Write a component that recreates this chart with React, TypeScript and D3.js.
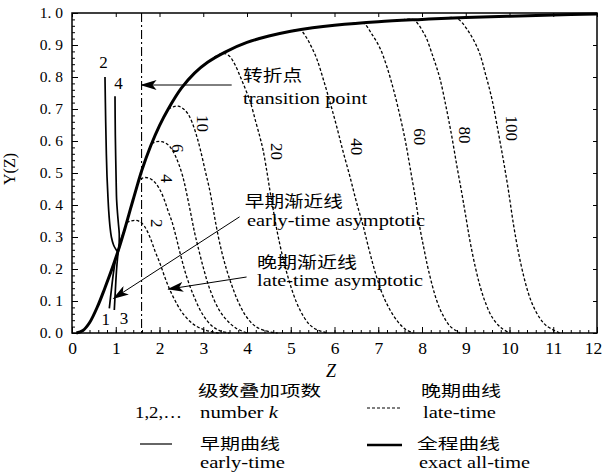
import * as d3 from 'd3';
import React, { useEffect, useRef } from 'react';

// chart box
const width = 602;
const height = 473;
const margin = { top: 13, right: 5, bottom: 140, left: 72 };

const serif = '"Liberation Serif", "Times New Roman", serif';
const cjk = '"Noto Sans CJK SC", "Noto Sans", sans-serif';

// axis ticks
const zTicks = [0, 1, 2, 3, 4, 5, 6, 7, 8, 9, 10, 11, 12];
const yTicks = [0, 0.1, 0.2, 0.3, 0.4, 0.5, 0.6, 0.7, 0.8, 0.9, 1.0];

// exact all-time curve [Z, Y]
const exactCurve: [number, number][] = [
  [0.1, 0], [0.25, 0.008], [0.4, 0.032], [0.6, 0.088], [0.75, 0.14], [0.9, 0.195],
  [1.05, 0.255], [1.2, 0.322], [1.3, 0.37], [1.4, 0.418], [1.5, 0.465], [1.6, 0.51],
  [1.8, 0.585], [2.0, 0.648], [2.2, 0.7], [2.5, 0.765], [2.8, 0.812], [3.1, 0.846],
  [3.5, 0.878], [4.0, 0.908], [4.5, 0.928], [5.0, 0.943], [5.5, 0.954], [6.0, 0.962],
  [7.0, 0.973], [8.0, 0.98], [9.0, 0.986], [10.0, 0.99], [11.0, 0.994], [12.0, 0.997]
];

// early-time curves, k = 1..4
const early1: [number, number][] = [
  [0.853, 0.077], [0.9, 0.135], [0.95, 0.19], [1.0, 0.232], [1.05, 0.255], [1.12, 0.29]
];
const early2: [number, number][] = [
  [0.754, 0.8], [0.77, 0.66], [0.785, 0.56], [0.8, 0.49], [0.82, 0.43], [0.84, 0.38],
  [0.87, 0.33], [0.9, 0.3], [0.95, 0.275], [1.0, 0.262], [1.04, 0.255], [1.1, 0.283]
];
const early3: [number, number][] = [
  [0.967, 0.072], [0.99, 0.13], [1.01, 0.18], [1.035, 0.225], [1.06, 0.255], [1.12, 0.29]
];
const early4: [number, number][] = [
  [0.983, 0.74], [0.99, 0.62], [1.0, 0.54], [1.01, 0.47], [1.02, 0.416], [1.04, 0.375],
  [1.06, 0.343], [1.08, 0.31], [1.078, 0.28], [1.07, 0.263], [1.1, 0.283], [1.2, 0.322]
];
const earlyCurves = [early1, early2, early3, early4];
const earlyLabels = ['1', '2', '3', '4'];
const earlyLabelAt: [number, number][] = [[0.77, 0.043], [0.72, 0.848], [1.19, 0.046], [1.06, 0.78]];

// late-time curves, k = 2 .. 100
const lateK = [2, 4, 6, 10, 20, 40, 60, 80, 100];
const late2: [number, number][] = [
  [1.25, 0.345], [1.35, 0.35], [1.45, 0.352], [1.55, 0.348], [1.65, 0.335], [1.78, 0.3],
  [1.9, 0.255], [2.01, 0.218], [2.12, 0.175], [2.24, 0.134], [2.4, 0.09], [2.54, 0.06],
  [2.75, 0.03], [2.95, 0.014], [3.15, 0.005], [3.35, 0]
];
const late4: [number, number][] = [
  [1.56, 0.482], [1.68, 0.486], [1.78, 0.483], [1.9, 0.47], [2.0, 0.45], [2.1, 0.42],
  [2.2, 0.38], [2.28, 0.35], [2.38, 0.3], [2.47, 0.25], [2.62, 0.176], [2.8, 0.11],
  [3.0, 0.055], [3.2, 0.022], [3.4, 0.006], [3.6, 0]
];
const late6: [number, number][] = [
  [1.82, 0.592], [1.93, 0.598], [2.05, 0.598], [2.18, 0.59], [2.3, 0.57], [2.42, 0.535],
  [2.53, 0.49], [2.63, 0.43], [2.72, 0.37], [2.8, 0.315], [2.87, 0.275], [3.0, 0.205],
  [3.15, 0.137], [3.35, 0.075], [3.54, 0.04], [3.75, 0.015], [4.0, 0]
];
const late10: [number, number][] = [
  [2.2, 0.7], [2.32, 0.707], [2.43, 0.709], [2.55, 0.7], [2.65, 0.685], [2.74, 0.66],
  [2.84, 0.62], [2.93, 0.575], [3.04, 0.51], [3.15, 0.445], [3.23, 0.385], [3.31, 0.325],
  [3.42, 0.255], [3.54, 0.195], [3.65, 0.15], [3.76, 0.11], [3.88, 0.075], [3.99, 0.05],
  [4.2, 0.02], [4.5, 0.004], [4.7, 0]
];
const late20: [number, number][] = [
  [3.25, 0.862], [3.46, 0.874], [3.6, 0.865], [3.72, 0.84], [3.85, 0.8], [3.97, 0.76],
  [4.07, 0.725], [4.2, 0.66], [4.3, 0.61], [4.37, 0.57], [4.46, 0.5], [4.53, 0.44],
  [4.6, 0.385], [4.7, 0.31], [4.83, 0.23], [4.98, 0.155], [5.14, 0.093], [5.3, 0.05],
  [5.44, 0.025], [5.6, 0.01], [5.85, 0]
];
const late40: [number, number][] = [
  [4.95, 0.942], [5.21, 0.947], [5.35, 0.925], [5.47, 0.895], [5.6, 0.855], [5.75, 0.79],
  [5.9, 0.72], [6.05, 0.645], [6.2, 0.565], [6.35, 0.49], [6.5, 0.41], [6.66, 0.332],
  [6.8, 0.255], [6.96, 0.176], [7.1, 0.12], [7.27, 0.072], [7.45, 0.035], [7.62, 0.012],
  [7.8, 0]
];
const late60: [number, number][] = [
  [6.4, 0.967], [6.66, 0.968], [6.85, 0.935], [7.04, 0.89], [7.19, 0.835], [7.35, 0.76],
  [7.5, 0.676], [7.62, 0.6], [7.73, 0.515], [7.85, 0.42], [7.95, 0.33], [8.05, 0.26],
  [8.15, 0.195], [8.34, 0.1], [8.5, 0.05], [8.65, 0.02], [8.87, 0]
];
const late80: [number, number][] = [
  [7.55, 0.978], [7.8, 0.979], [8.05, 0.935], [8.26, 0.86], [8.41, 0.795], [8.56, 0.7],
  [8.68, 0.615], [8.8, 0.52], [8.91, 0.437], [9.0, 0.365], [9.1, 0.285], [9.22, 0.205],
  [9.33, 0.145], [9.45, 0.095], [9.6, 0.05], [9.8, 0.017], [10.0, 0]
];
const late100: [number, number][] = [
  [8.5, 0.983], [8.79, 0.984], [9.05, 0.945], [9.3, 0.88], [9.45, 0.81], [9.6, 0.73],
  [9.74, 0.63], [9.86, 0.54], [9.97, 0.45], [10.09, 0.34], [10.2, 0.255], [10.32, 0.18],
  [10.43, 0.125], [10.54, 0.085], [10.7, 0.045], [10.85, 0.022], [11.15, 0]
];
const lateCurves = [late2, late4, late6, late10, late20, late40, late60, late80, late100];
// where each k label sits (Z, Y), text runs down the page
const lateLabelAt: [number, number][] = [
  [1.94, 0.343], [2.16, 0.483], [2.43, 0.577], [3.0, 0.655], [4.68, 0.567],
  [6.51, 0.582], [7.95, 0.613], [8.98, 0.619], [10.05, 0.64]
];

// transition point and the annotation arrows [from, to]
const transitionZ = 1.59;
const arrows: [[number, number], [number, number]][] = [
  [[3.65, 0.775], [1.59, 0.775]],
  [[3.83, 0.363], [0.95, 0.108]],
  [[3.99, 0.175], [2.2, 0.137]]
];

const App: React.FC = () => {
  const svgRef = useRef<SVGSVGElement>(null);

  useEffect(() => {
    const svg = d3.select(svgRef.current);
    svg.selectAll('*').remove();

    const x = d3.scaleLinear().domain([0, 12]).range([margin.left, width - margin.right]);
    const y = d3.scaleLinear().domain([0, 1]).range([height - margin.bottom, margin.top]);
    const y0 = y(0);

    svg.append('rect').attr('width', width).attr('height', height).attr('fill', '#fff');

    const defs = svg.append('defs');
    defs
      .append('marker')
      .attr('id', 'arrowHead')
      .attr('viewBox', '0 0 16 10')
      .attr('refX', 15)
      .attr('refY', 5)
      .attr('markerWidth', 16)
      .attr('markerHeight', 10)
      .attr('markerUnits', 'userSpaceOnUse')
      .attr('orient', 'auto')
      .append('path')
      .attr('d', 'M0,0 L16,5 L0,10 L4,5 Z')
      .attr('fill', '#000');

    // axes: majors with labels, minors without (ticks point inward)
    const fmt = d3.format('.1f');
    const bottom = svg
      .append('g')
      .attr('transform', `translate(0,${y0})`)
      .call(d3.axisBottom(x).tickValues(zTicks).tickSize(-6).tickPadding(9).tickFormat((d) => `${d}`));
    bottom
      .selectAll('text')
      .attr('font-size', 17.5)
      .attr('font-family', serif)
      .attr('fill', '#000')
      .attr('dx', (d) => ((d as number) === 12 ? -4 : 0));
    svg
      .append('g')
      .attr('transform', `translate(0,${y0})`)
      .call(d3.axisBottom(x).tickValues(d3.range(0, 12.01, 0.2)).tickSize(-3).tickFormat(() => ''));

    const left = svg
      .append('g')
      .attr('transform', `translate(${margin.left},0)`)
      .call(
        d3
          .axisLeft(y)
          .tickValues(yTicks)
          .tickSize(-6)
          .tickPadding(9)
          .tickFormat((d) => fmt(d as number).replace('.', '. '))
      );
    left
      .selectAll('text')
      .attr('font-size', 15.5)
      .attr('font-family', serif)
      .attr('fill', '#000')
      .style('white-space', 'pre');
    svg
      .append('g')
      .attr('transform', `translate(${margin.left},0)`)
      .call(d3.axisLeft(y).tickValues(d3.range(0, 1.001, 0.02)).tickSize(-3).tickFormat(() => ''));

    svg
      .append('g')
      .attr('transform', `translate(${width - margin.right},0)`)
      .call(d3.axisRight(y).tickValues(yTicks).tickSize(-4).tickFormat(() => ''));
    svg
      .append('g')
      .attr('transform', `translate(0,${margin.top})`)
      .call(d3.axisTop(x).tickValues(zTicks).tickSize(-4).tickFormat(() => ''));

    svg.selectAll('.domain').remove();
    svg.selectAll('.tick line').attr('stroke', '#000').attr('stroke-width', 1);

    svg
      .append('rect')
      .attr('x', x(0))
      .attr('y', y(1))
      .attr('width', x(12) - x(0))
      .attr('height', y(0) - y(1))
      .attr('fill', 'none')
      .attr('stroke', '#000')
      .attr('stroke-width', 1.5);

    const line = d3
      .line<[number, number]>()
      .x((d) => x(d[0]))
      .y((d) => y(d[1]))
      .curve(d3.curveCatmullRom.alpha(0.5));

    const plot = svg.append('g');

    // transition line
    plot
      .append('line')
      .attr('x1', x(transitionZ))
      .attr('x2', x(transitionZ))
      .attr('y1', y(1))
      .attr('y2', y(0))
      .attr('stroke', '#000')
      .attr('stroke-width', 1.1)
      .attr('stroke-dasharray', '9,3,2,3');

    // late-time (dashed)
    plot
      .selectAll('.late')
      .data(lateCurves)
      .join('path')
      .attr('class', 'late')
      .attr('d', (d) => line(d))
      .attr('fill', 'none')
      .attr('stroke', '#000')
      .attr('stroke-width', 1.3)
      .attr('stroke-dasharray', '3,2');

    // early-time (thin solid)
    plot
      .selectAll('.early')
      .data(earlyCurves)
      .join('path')
      .attr('class', 'early')
      .attr('d', (d) => line(d))
      .attr('fill', 'none')
      .attr('stroke', '#000')
      .attr('stroke-width', 1.7);

    // exact all-time
    plot
      .append('path')
      .attr('d', line(exactCurve))
      .attr('fill', 'none')
      .attr('stroke', '#000')
      .attr('stroke-width', 3);

    // k labels
    plot
      .selectAll('.lateLabel')
      .data(lateK)
      .join('text')
      .attr('class', 'lateLabel')
      .attr('transform', (_d, i) => `translate(${x(lateLabelAt[i][0])},${y(lateLabelAt[i][1])}) rotate(90)`)
      .attr('text-anchor', 'middle')
      .attr('dy', '0.35em')
      .attr('font-family', serif)
      .attr('font-size', 17)
      .text((d) => `${d}`);

    plot
      .selectAll('.earlyLabel')
      .data(earlyLabels)
      .join('text')
      .attr('class', 'earlyLabel')
      .attr('x', (_d, i) => x(earlyLabelAt[i][0]))
      .attr('y', (_d, i) => y(earlyLabelAt[i][1]))
      .attr('text-anchor', 'middle')
      .attr('dy', '0.35em')
      .attr('font-family', serif)
      .attr('font-size', 17)
      .text((d) => d);

    // arrows
    plot
      .selectAll('.arrow')
      .data(arrows)
      .join('line')
      .attr('class', 'arrow')
      .attr('x1', (d) => x(d[0][0]))
      .attr('y1', (d) => y(d[0][1]))
      .attr('x2', (d) => x(d[1][0]))
      .attr('y2', (d) => y(d[1][1]))
      .attr('stroke', '#000')
      .attr('stroke-width', 1)
      .attr('marker-end', 'url(#arrowHead)');

    // annotation text
    const notes: [string, number, number, number, string, number][] = [
      ['转折点', 3.91, 0.7875, 59, cjk, 16],
      ['transition point', 3.91, 0.716, 124, serif, 17],
      ['早期渐近线', 3.95, 0.394, 98, cjk, 16],
      ['early-time asymptotic', 4.0, 0.334, 178, serif, 17],
      ['晚期渐近线', 4.23, 0.203, 100, cjk, 16],
      ['late-time asymptotic', 4.23, 0.147, 166, serif, 17]
    ];
    plot
      .selectAll('.note')
      .data(notes)
      .join('text')
      .attr('class', 'note')
      .attr('x', (d) => x(d[1]))
      .attr('y', (d) => y(d[2]))
      .attr('font-family', (d) => d[4])
      .attr('font-size', (d) => d[5])
      .attr('textLength', (d) => d[3])
      .attr('lengthAdjust', 'spacingAndGlyphs')
      .text((d) => d[0]);

    // axis titles
    svg
      .append('text')
      .attr('x', 331)
      .attr('y', 377)
      .attr('text-anchor', 'middle')
      .attr('font-family', serif)
      .attr('font-style', 'italic')
      .attr('font-size', 18)
      .text('Z');
    svg
      .append('text')
      .attr('transform', 'translate(15,169) rotate(-90)')
      .attr('text-anchor', 'middle')
      .attr('font-family', serif)
      .attr('font-size', 16)
      .text('Y(Z)');

    // legend
    const legend = svg.append('g');
    const legendText: [string, number, number, number, string, number][] = [
      ['级数叠加项数', 198, 396, 123, cjk, 15],
      ['1,2,…', 135, 418, 47, serif, 17],
      ['早期曲线', 200, 449, 80, cjk, 15],
      ['early-time', 200, 468, 85, serif, 17],
      ['晚期曲线', 421, 396, 80, cjk, 15],
      ['late-time', 423, 418, 73, serif, 17],
      ['全程曲线', 417, 449, 83, cjk, 15],
      ['exact all-time', 419, 468, 111, serif, 17]
    ];
    legend
      .selectAll('text.lg')
      .data(legendText)
      .join('text')
      .attr('class', 'lg')
      .attr('x', (d) => d[1])
      .attr('y', (d) => d[2])
      .attr('font-family', (d) => d[4])
      .attr('font-size', (d) => d[5])
      .attr('textLength', (d) => d[3])
      .attr('lengthAdjust', 'spacingAndGlyphs')
      .text((d) => d[0]);
    const nk = legend
      .append('text')
      .attr('x', 200)
      .attr('y', 418)
      .attr('font-family', serif)
      .attr('font-size', 17)
      .attr('textLength', 78)
      .attr('lengthAdjust', 'spacingAndGlyphs');
    nk.append('tspan').text('number ');
    nk.append('tspan').attr('font-style', 'italic').text('k');

    legend
      .append('line')
      .attr('x1', 367).attr('x2', 400).attr('y1', 408).attr('y2', 408)
      .attr('stroke', '#000').attr('stroke-width', 1.2).attr('stroke-dasharray', '3,2');
    legend
      .append('line')
      .attr('x1', 140).attr('x2', 172).attr('y1', 444).attr('y2', 444)
      .attr('stroke', '#000').attr('stroke-width', 1.2);
    legend
      .append('line')
      .attr('x1', 367).attr('x2', 402).attr('y1', 445).attr('y2', 445)
      .attr('stroke', '#000').attr('stroke-width', 2.5);
  }, []);

  return (
    <svg
      ref={svgRef}
      width={width}
      height={height}
      viewBox={`0 0 ${width} ${height}`}
      style={{ position: 'absolute', left: 0, top: 0 }}
    ></svg>
  );
};

export default App;
